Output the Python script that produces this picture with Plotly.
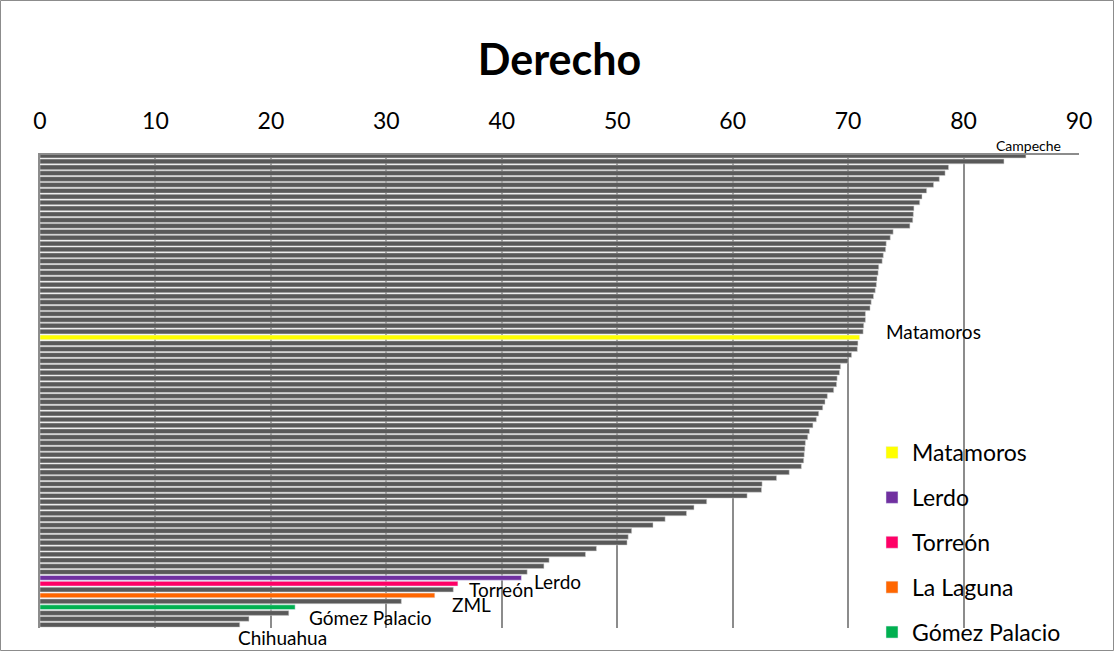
import plotly.graph_objects as go

# valores de cada barra, de arriba (Campeche) hacia abajo (Chihuahua)
valores = [85.4, 83.5, 78.7, 78.4, 77.9, 77.4, 76.8, 76.4, 76.2, 75.7,
           75.65, 75.6, 75.35, 73.9, 73.65, 73.3, 73.25, 73.05, 72.95, 72.65,
           72.6, 72.5, 72.45, 72.35, 72.2, 72.0, 71.9, 71.5, 71.5, 71.35,
           71.3, 71.0, 70.85, 70.8, 70.3, 70.0, 69.35, 69.25, 69.05, 69.0,
           68.75, 68.2, 68.0, 67.8, 67.45, 67.25, 66.95, 66.65, 66.5, 66.3,
           66.25, 66.2, 66.15, 65.95, 64.9, 63.8, 62.55, 62.5, 61.25, 57.75,
           56.65, 56.0, 54.15, 53.1, 51.25, 50.95, 50.85, 48.2, 47.25, 44.1,
           43.65, 42.2, 41.7, 36.2, 35.8, 34.2, 31.3, 22.1, 21.55, 18.1, 17.3]
posiciones = list(range(len(valores)))

# barras resaltadas: indice, nombre en leyenda, color
resaltadas = [(31, "Matamoros", "#ffff00"),
              (72, "Lerdo", "#7030a0"),
              (73, "Torreón", "#ff0066"),
              (75, "La Laguna", "#ff6600"),
              (77, "Gómez Palacio", "#00b050")]

# etiquetas de texto junto a las barras: indice, texto
etiquetas = [(0, "Campeche"), (31, "Matamoros"), (72, "Lerdo"), (73, "Torreón"),
             (75, "ZML"), (77, "Gómez Palacio"), (80, "Chihuahua")]

fuente = "Lato"
idx_res = [r[0] for r in resaltadas]

fig = go.Figure()

# barras grises
gris = [None if i in idx_res else v for i, v in enumerate(valores)]
fig.add_trace(go.Bar(x=gris, y=posiciones, orientation="h", width=0.8,
                     marker=dict(color="#595959", line=dict(color="#d0d0d0", width=0.5)),
                     showlegend=False, hoverinfo="x"))

# barras de color
for i, nombre, color in resaltadas:
    fig.add_trace(go.Bar(x=[valores[i]], y=[i], orientation="h", width=0.8,
                         marker=dict(color=color), name=nombre, legendgroup=nombre))

# etiquetas: desplazamiento x, desplazamiento y, anclaje, tamano
desplaz = {0: (3, 10, "center", 14), 31: (24, 6, "left", 19), 72: (11, -4, "left", 19),
           73: (9, -6, "left", 19), 75: (15, -9, "left", 19), 77: (12, -10, "left", 19),
           80: (43, -13, "center", 19)}
for i, texto in etiquetas:
    dx, dy, anc, tam = desplaz[i]
    fig.add_annotation(x=valores[i], y=i, text=texto, showarrow=False,
                       xanchor=anc, yanchor="middle", xshift=dx, yshift=dy,
                       font=dict(family=fuente, size=tam, color="black"))

W, H = 1114, 651
ml, mr, mt, mb = 40, 35, 155, 23
pw, ph = W - ml - mr, H - mt - mb

# borde exterior del grafico
fig.add_shape(type="rect", xref="paper", yref="paper",
              x0=(-ml + 0.5) / pw, x1=1 + (mr - 0.5) / pw,
              y0=(-mb + 0.5) / ph, y1=1 + (mt - 0.5) / ph,
              line=dict(color="#8c8c8c", width=1))

fig.update_layout(
    width=W, height=H,
    margin=dict(l=ml, r=mr, t=mt, b=mb, autoexpand=False),
    paper_bgcolor="white", plot_bgcolor="white",
    barmode="overlay",
    title=dict(text="<b>Derecho</b>", x=0.5, xanchor="center", xref="paper",
               y=1 - 60 / H, yanchor="middle",
               font=dict(family=fuente, size=43, color="black")),
    font=dict(family=fuente, color="black"),
    xaxis=dict(side="top", range=[0, 90], dtick=10, tick0=0,
               showgrid=True, gridcolor="#8c8c8c", gridwidth=1.5,
               showline=True, linecolor="#8c8c8c", linewidth=1.5,
               zeroline=False, ticks="", ticklabelstandoff=15,
               tickfont=dict(family=fuente, size=23, color="black")),
    yaxis=dict(range=[80.55, -0.1], showticklabels=False, showgrid=False,
               zeroline=False, showline=True, linecolor="#8c8c8c", linewidth=1.5,
               ticks=""),
    legend=dict(x=(872 - ml) / pw, xanchor="left", y=(H - mb - 431) / ph, yanchor="top",
                bgcolor="rgba(0,0,0,0)", tracegroupgap=12,
                font=dict(family=fuente, size=23, color="black")),
)

fig.write_html("out.html", config={"displayModeBar": False},
               post_script="document.body.style.margin='0px';")
